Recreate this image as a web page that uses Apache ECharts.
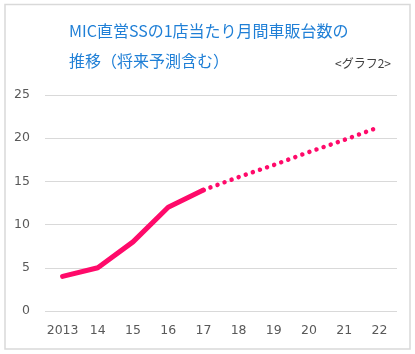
<!DOCTYPE html>
<html>
<head>
<meta charset="utf-8">
<script src="https://cdn.jsdelivr.net/npm/echarts@6/dist/echarts.min.js"></script>
<style>
  html, body { margin: 0; padding: 0; background: #fff; }
  #chart { width: 415px; height: 354px; }
</style>
</head>
<body>
<div id="chart"></div>
<script>
// 年度 (x軸)
let years = ['2013', '14', '15', '16', '17', '18', '19', '20', '21', '22']
// 実績
let actual = [4, 5, 8, 12, 14, null, null, null, null, null]
// 予測
let forecast = [null, null, null, null, 14, 15.5, 16.9, 18.4, 19.8, 21.3]
let yTicks = [0, 5, 10, 15, 20, 25]

let pink = '#ff0a6a'
let myChart = echarts.init(document.getElementById('chart'))
myChart.setOption({
  animation: false,
  title: [{
    text: 'MIC直営SSの1店当たり月間車販台数の',
    left: 64,
    top: 18,
    textStyle: {
      color: '#1f7fd6',
      fontSize: 16,
      fontWeight: 'normal',
      fontFamily: 'Noto Sans CJK JP'
    }
  }, {
    text: '推移（将来予測含む）',
    left: 64,
    top: 48,
    textStyle: {
      color: '#1f7fd6',
      fontSize: 16,
      fontWeight: 'normal',
      fontFamily: 'Noto Sans CJK JP'
    }
  }, {
    text: '<グラフ2>',
    left: 330,
    top: 52,
    textStyle: {
      color: '#404040',
      fontSize: 12,
      fontWeight: 'normal',
      fontFamily: 'Noto Sans CJK JP'
    }
  }],
  graphic: [{
    type: 'rect',
    shape: { x: 5, y: 4.5, width: 405, height: 344.5 },
    style: { fill: 'none', stroke: '#d9d9d9', lineWidth: 1.5 },
    silent: true
  }],
  grid: {
    left: 45,
    right: 18,
    top: 95,
    bottom: 43
  },
  xAxis: {
    type: 'category',
    data: years,
    boundaryGap: true,
    axisLine: { show: false },
    axisTick: { show: false },
    axisLabel: {
      interval: 0,
      color: '#595959',
      fontSize: 12.5,
      fontFamily: 'DejaVu Sans',
      margin: 13
    }
  },
  yAxis: {
    type: 'value',
    min: yTicks[0],
    max: yTicks[yTicks.length - 1],
    interval: 5,
    axisLine: { show: false },
    axisTick: { show: false },
    axisLabel: {
      color: '#595959',
      fontSize: 12.5,
      fontFamily: 'DejaVu Sans',
      margin: 15
    },
    splitLine: {
      lineStyle: { color: '#d9d9d9', width: 1 }
    }
  },
  series: [{
    name: '実績',
    type: 'line',
    data: actual,
    symbol: 'none',
    lineStyle: { color: pink, width: 5, cap: 'round', join: 'round' },
    z: 3
  }, {
    name: '予測',
    type: 'line',
    data: forecast,
    symbol: 'none',
    lineStyle: { color: pink, width: 4.5, type: [0.01, 7.5], cap: 'round' },
    z: 2
  }]
})
</script>
</body>
</html>
